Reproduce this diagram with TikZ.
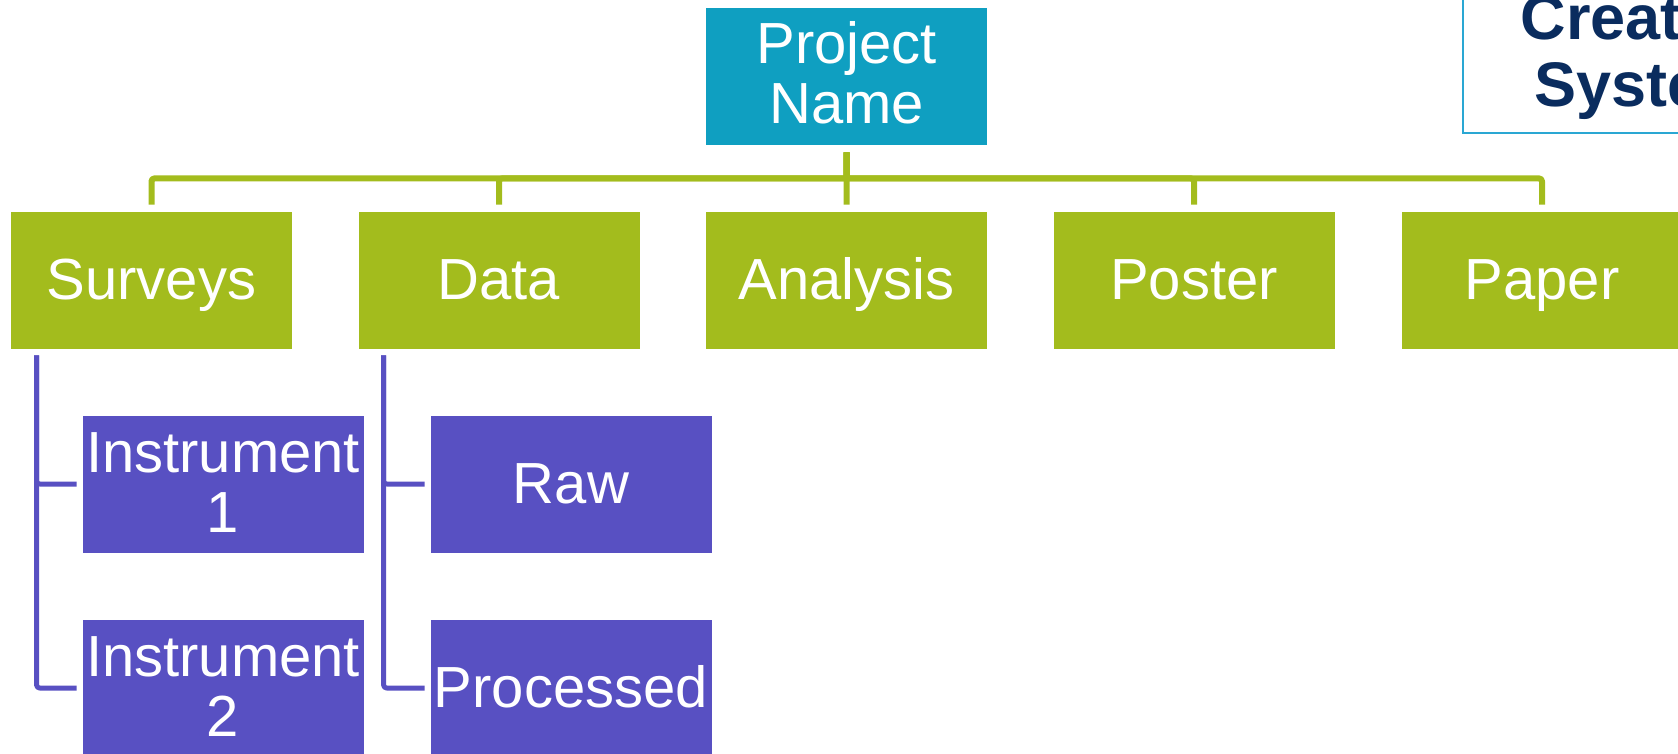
\documentclass[tikz,border=0pt]{standalone}
\usepackage{fontspec}
\setmainfont{Liberation Sans}
\usetikzlibrary{calc}

\definecolor{topblue}{HTML}{0F9FC1}
\definecolor{leafgreen}{HTML}{A3BC1D}
\definecolor{subpurple}{HTML}{5850C2}
\definecolor{navytext}{HTML}{0A2C5E}
\definecolor{frameblue}{HTML}{2AA7D3}

\tikzset{
  boxbase/.style={rectangle, inner sep=0pt, minimum width=282pt, minimum height=138pt,
    draw=white, line width=0.8pt, text=white, align=center,
    font=\fontsize{58}{60}\selectfont},
  oneline/.style={text height=38pt, text depth=0pt},
  twoline/.style={text height=96pt, text depth=0pt},
  rootbox/.style={boxbase, fill=topblue},
  greenbox/.style={boxbase, fill=leafgreen},
  purplebox/.style={boxbase, fill=subpurple},
  greenlink/.style={draw=leafgreen, line width=6pt, rounded corners=3pt, line join=round},
  purplelink/.style={draw=subpurple, line width=5pt, rounded corners=3pt, line join=round},
  framebox/.style={rectangle, draw=frameblue, line width=1.6pt, fill=white, inner sep=0pt},
  navylabel/.style={text=navytext, inner sep=0pt, font=\fontsize{63}{67}\selectfont\bfseries}
}

\begin{document}
\begin{tikzpicture}[x=1pt, y=-1pt]
  \useasboundingbox (0,0) rectangle (1678,754);
  \clip (0,0) rectangle (1678,754);

  % root
  \node[rootbox, twoline] (proj) at (846.7,76) {Project\\Name};

  % first level
  \node[greenbox, oneline] (surveys)  at (151.5,280) {Surveys};
  \node[greenbox, oneline] (data)     at (499,280)   {Data};
  \node[greenbox, oneline] (analysis) at (846.5,280) {Analysis};
  \node[greenbox, oneline] (poster)   at (1194,280)  {Poster};
  \node[greenbox, oneline] (paper)    at (1542,280)  {Paper};

  % second level
  \node[purplebox, twoline] (inst1) at (223,484) {Instrument\\1};
  \node[purplebox, twoline] (inst2) at (223,688) {Instrument\\2};
  \node[purplebox, oneline] (raw)   at (571,484) {Raw};
  \node[purplebox, oneline] (proc)  at (571,688) {Processed};

  % root to first level
  \coordinate (rootdrop) at ($(proj.south)+(0,7)$);
  \foreach \child in {surveys, data, poster, paper}
    \draw[greenlink] (rootdrop) -- ++(0,26) -| ($(\child.north)+(0,-6)$);
  \draw[greenlink] (rootdrop) -- ($(analysis.north)+(0,-6)$);

  % first level to second level
  \draw[purplelink] ($(surveys.south west)+(26.5,6)$) |- ($(inst1.west)+(-5,0)$);
  \draw[purplelink] ($(surveys.south west)+(26.5,6)$) |- ($(inst2.west)+(-5,0)$);
  \draw[purplelink] ($(data.south west)+(26,6)$) |- ($(raw.west)+(-5,0)$);
  \draw[purplelink] ($(data.south west)+(26,6)$) |- ($(proc.west)+(-5,0)$);

  % side panel
  \node[framebox, anchor=south west, minimum width=300pt, minimum height=150pt] (panel) at (1462,134) {};
  \node[navylabel, anchor=base west] (paneltop) at (1520.5,40) {Create};
  \node[navylabel, anchor=base west] (panelbot) at (1534.5,107) {System};
\end{tikzpicture}
\end{document}
